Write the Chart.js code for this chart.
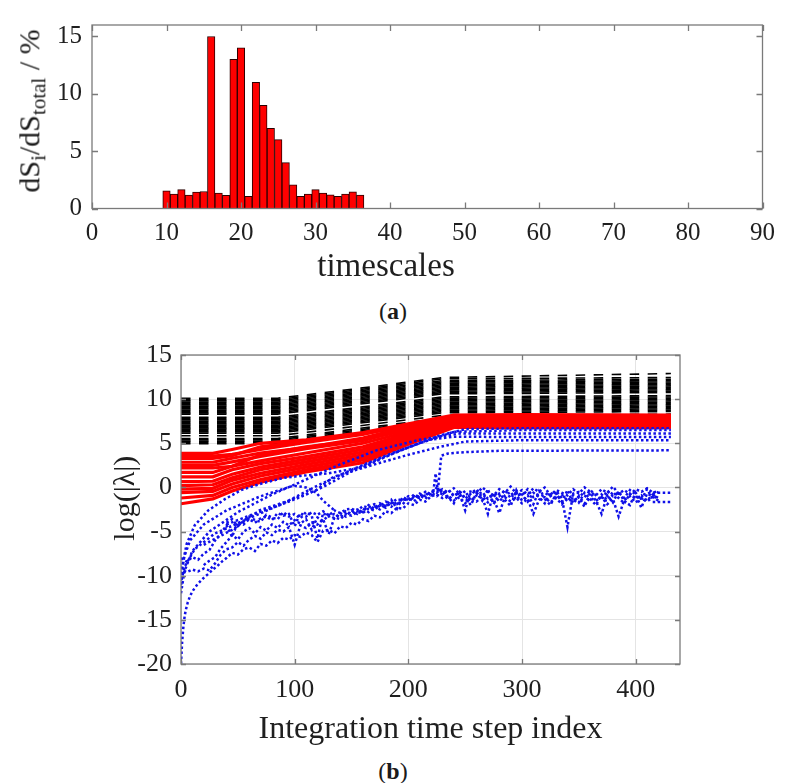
<!DOCTYPE html>
<html><head><meta charset="utf-8">
<script src="https://cdn.jsdelivr.net/npm/chart.js@4.4.1/dist/chart.umd.min.js"></script>
<style>
html,body{margin:0;padding:0;background:#fff;}
body{width:785px;height:783px;position:relative;overflow:hidden;font-family:'Liberation Serif',serif;}
canvas{position:absolute;left:0;}
#c1{top:0;}
#c2{top:330px;}
.lbl{position:absolute;color:#1a1a1a;white-space:nowrap;line-height:1;transform:translate(-50%,-50%);}
#ylab{left:32px;top:111px;font-size:30px;transform:translate(-50%,-50%) rotate(-90deg);}
#ylab sub{font-size:21px;vertical-align:-0.3em;}
#la{left:393px;top:311px;font-size:24px;}
#lb{left:393px;top:771px;font-size:24px;}
</style></head><body>
<canvas id="c1" width="785" height="290"></canvas>
<canvas id="c2" width="785" height="420"></canvas>
<div id="ylab" class="lbl">dS<sub>i</sub>/dS<sub>total</sub> / %</div>
<div id="la" class="lbl">(<b>a</b>)</div>
<div id="lb" class="lbl">(<b>b</b>)</div>
<script>
// ---------- (a) bar chart data ----------
const timescaleBins = [10,11,12,13,14,15,16,17,18,19,20,21,22,23,24,25,26,27,28,29,30,31,32,33,34,35,36];
const entropyShare  = [1.54,1.26,1.65,1.18,1.43,1.48,15.0,1.35,1.15,13.0,14.0,1.07,11.0,9.0,7.0,6.0,4.0,2.06,1.07,1.26,1.65,1.35,1.2,1.07,1.26,1.46,1.18];
const xTicksA = [0,10,20,30,40,50,60,70,80,90];
const yTicksA = [0,5,10,15];

// ---------- (b) eigenvalue trajectories ----------
const xTicksB = [0,100,200,300,400];
const yTicksB = [-20,-15,-10,-5,0,5,10,15];

// black dashed (slow) eigenvalues, sampled at blackX
const blackX = [0, 85, 130, 180, 230, 431];
const blackLines = [
  [10.1,10.1,10.8,11.6,12.45,12.9],
  [9.95,9.95,10.65,11.45,12.3,12.45],
  [9.8,9.8,10.5,11.3,12.1,12.25],
  [9.65,9.65,10.35,11.15,11.95,12.1],
  [9.5,9.5,10.2,11.0,11.8,11.95],
  [9.35,9.35,10.05,10.85,11.65,11.8],
  [9.2,9.2,9.9,10.7,11.5,11.65],
  [9.05,9.05,9.75,10.55,11.35,11.5],
  [8.9,8.9,9.6,10.4,11.2,11.35],
  [8.75,8.75,9.45,10.25,11.05,11.2],
  [8.6,8.6,9.3,10.1,10.9,11.05],
  [8.45,8.45,9.15,9.95,10.75,10.9],
  [8.3,8.3,9.0,9.8,10.6,10.75],
  [7.95,7.95,8.65,9.45,10.25,10.4],
  [7.8,7.8,8.5,9.3,10.1,10.25],
  [7.65,7.65,8.35,9.15,9.95,10.1],
  [7.5,7.5,8.2,9.0,9.8,9.95],
  [7.35,7.35,8.05,8.85,9.65,9.8],
  [7.2,7.2,7.9,8.7,9.5,9.65],
  [7.05,7.05,7.75,8.55,9.35,9.5],
  [6.9,6.9,7.6,8.4,9.2,9.35],
  [6.75,6.75,7.45,8.25,9.05,9.2],
  [6.6,6.6,7.3,8.1,8.9,9.05],
  [6.45,6.45,7.15,7.95,8.75,8.9],
  [6.3,6.3,7.0,7.8,8.6,8.75],
  [6.15,6.15,6.85,7.65,8.45,8.6],
  [5.85,5.85,6.55,7.35,8.15,8.3],
  [5.55,5.55,6.25,7.05,7.85,8.0],
  [5.4,5.4,6.1,6.9,7.7,7.85],
  [5.25,5.25,5.95,6.75,7.55,7.7],
  [5.1,5.1,5.8,6.6,7.4,7.55],
  [4.95,4.95,5.65,6.45,7.25,7.4]
];

// red solid eigenvalues, sampled at redX
const redX = [0, 28, 45, 70, 110, 160, 200, 240, 300, 431];
const redLines = [
  [3.85,3.85,4.3,5.0,5.4,6.2,7.2,8.2,8.25,8.2],
  [3.55,3.55,3.75,4.3,5.1,6.0,7.1,8.1,8.15,8.1],
  [3.3,3.3,3.6,4.6,5.25,6.1,7.0,8.0,8.0,7.95],
  [2.85,2.85,3.3,3.9,4.5,5.6,6.9,7.9,7.9,7.85],
  [2.5,2.5,2.9,3.5,4.4,5.3,6.7,7.75,7.75,7.7],
  [2.2,2.2,2.4,3.7,4.6,5.4,6.5,7.6,7.6,7.6],
  [1.7,1.7,2.4,3.0,3.9,5.0,6.3,7.5,7.5,7.5],
  [1.2,1.2,2.0,2.7,3.5,4.6,6.1,7.4,7.4,7.35],
  [0.65,0.7,1.5,2.3,3.2,4.3,5.9,7.3,7.3,7.25],
  [0.2,0.3,1.1,2.0,2.9,4.0,5.7,7.2,7.2,7.15],
  [-0.2,-0.1,0.8,1.6,2.6,3.7,5.5,7.1,7.1,7.05],
  [-0.6,-0.45,0.4,1.3,2.3,3.4,5.3,7.0,7.0,6.95],
  [-1.2,-0.9,0.0,0.9,2.0,3.1,5.1,6.9,6.9,6.85],
  [-1.85,-1.3,-0.4,0.6,1.76,2.8,4.9,6.8,6.8,6.8]
];

// blue dotted smooth eigenvalues
const blueAX = [0,2,5,12,24,39,53,71,91,105,130,160,193,228,250,300,431];
const blueAY = [-11,-8.3,-6.4,-4.3,-2.6,-1.3,-0.3,0.45,1.1,1.3,1.6,2.3,4.2,5.9,6.6,6.7,6.7];
const blueBX = [0,3,8,20,40,70,99,110,119,125,135];
const blueBY = [-9.8,-7.8,-6.0,-4.2,-2.6,-1.0,0.2,0.0,-0.6,-1.5,-2.6];
const blueCX = [40,61,85,105,125,157,187,216,240,300,431];
const blueCY = [-4.2,-3.15,-2.1,-1.1,0.05,2.3,3.85,5.35,5.75,5.7,5.7];
const blueDX = [20,45,69,95,119,134,170,200,228,250,300,431];
const blueDY = [-6.5,-4.8,-2.6,-1.5,-0.3,1.2,2.6,3.7,4.6,5.2,5.35,5.35];
const blueEX = [0,3,10,25,50,80,110,140,172,210,245,300,431];
const blueEY = [-12,-9.5,-7.2,-5,-2.8,-0.8,0.9,2.6,4.2,5.4,6.1,6.1,6.1];
const blueGX = [0,4,12,30,60,90,120,150,180,210,240,300,431];
const blueGY = [-10.5,-8.8,-7,-5.2,-3.5,-1.8,0.2,2.0,3.6,5.0,6.3,6.5,6.5];
const jumpX = [226,229,235,250,280,431];
const jumpY = [-0.3,3.6,3.85,4.0,4.15,4.2];

// blue dotted noisy eigenvalues
const stepX = [0,5,10,15,20,25,30,35,40,45,50,55,60,65,70,75,80,85,90,95,100,105,110,115,120,125,130,135,140,145,150,155,160,165,170,175,180,185,190,195,200,205,210,215,220,225,230,235,240,245,250,255,260,265,270,275,280,285,290,295,300,305,310,315,320,325,330,335,340,345,350,355,360,365,370,375,380,385,390,395,400,405,410,415,420];
const noisy1Y = [-8.0,-8.4,-7.9,-8.2,-7.5,-7.1,-6.0,-5.2,-4.3,-5.6,
 -3.9,-4.2,-3.6,-4.0,-3.5,-3.3,-3.7,-2.9,-3.2,-3.0,
 -4.4,-2.9,-3.3,-2.8,-3.1,-2.7,-3.2,-2.6,-2.9,-2.5,
 -2.4,-2.7,-2.1,-2.3,-1.9,-2.2,-1.6,-1.8,-1.3,-1.5,
 -1.0,-1.3,-0.7,-1.0,-0.4,-0.6,-0.2,-0.6,-0.1,-0.7,
 -2.6,-0.3,-0.8,0.0,-0.5,-0.9,-0.2,-0.6,0.1,-0.7,
 -0.3,-0.8,-0.1,-0.5,0.0,-0.9,-0.3,-0.6,-0.9,-0.2,
 -0.7,0.0,-0.5,-0.9,-0.2,-0.6,0.1,-0.7,-0.3,-0.8,
 -0.2,-0.5,-0.1,-0.6,-0.4];
const noisy4Y = [null,null,null,null,null,null,null,null,
 -4.0,-3.6,-4.4,-3.8,-3.3,-3.7,-3.9,-3.1,-3.4,-3.6,
 -2.8,-3.3,-3.0,-3.5,-2.8,-3.2,-5.8,-2.9,-3.3,-3.0,
 -3.4,-2.7,-3.0,-2.5,-2.8,-2.0,-2.4,-1.8,-2.1,-1.4,
 -2.4,-1.1,-1.4,-0.8,-1.1,-0.5,-0.8,0.0,-0.5,-1.4,
 -0.6,-1.0,-0.4,-1.5,-0.9,-0.5,-1.3,-0.8,-1.6,-0.9,
 -0.5,-1.4,-0.8,-1.6,-0.6,-1.1,-1.8,-0.5,-1.3,-0.8,
 -1.5,-0.9,-1.7,-0.6,-1.3,-2.0,-0.8,-1.4,-0.5,-1.2,
 -1.8,-0.7,-1.3,-0.9,-1.5,-0.8,-1.2];
const noisy5Y = [null,null,null,null,
 -8.8,-8.3,-7.9,-6.9,-6.2,-5.4,-5.9,-5.0,-4.6,-5.2,
 -4.5,-4.9,-4.2,-4.6,-3.9,-4.3,-3.7,-4.1,-3.6,-4.8,
 -3.4,-3.8,-3.1,-3.5,-2.9,-3.3,-2.6,-3.0,-2.4,-2.8,
 -2.1,-2.5,-1.9,-2.2,-1.6,-1.9,-1.2,-1.6,-0.9,-1.3,
 -0.6,-1.0,-0.3,-1.1,-1.8,-0.4,-1.2,-2.0,-0.6,-1.5,
 -0.2,-1.9,-0.7,-1.4,-2.1,-0.3,-1.5,-0.9,-1.9,-0.4,
 -1.3,-2.0,-0.7,-1.6,-0.3,-1.8,-1.1,-2.2,-0.6,-1.5,
 -3.0,-0.9,-1.7,-0.4,-1.6,-2.0,-0.6,-1.4,-0.2,-1.3,
 -0.9];
const noisy2X = [0,1,2,3,4,6,8,10,12,15,18,21,24,28,32,36,40,45,50,55,60,65,70,75,80,85,90,95,100,105,110,115,120,125,130,135,140,145,150,155,160,165,170,175,180,185,190,195,200,205,210,215,220,225,230,235,240,245,250,255,260,265,270,275,280,285,290,295,300,305,310,315,320,325,330,335,340,345,350,355,360,365,370,375,380,385,390,395,400,405,410,415,420];
const noisy2Y = [-20,-17.5,-15.9,-14.8,-14.0,-13.0,-12.3,-11.8,-11.4,-10.9,-10.5,-10.1,-9.8,-9.3,-8.9,-8.4,-8.0,
 -7.4,-7.6,-7.0,-6.8,-7.2,-6.4,-6.6,-6.0,-6.3,-5.7,-5.9,
 -5.4,-5.6,-5.1,-5.4,-6.2,-4.9,-4.8,-5.2,-4.4,-4.6,
 -4.0,-4.2,-3.6,-3.8,-3.2,-3.4,-2.7,-2.9,-2.3,-2.4,
 -1.8,-2.0,-1.4,-1.6,-1.0,-0.8,-1.2,-0.9,-1.5,-1.1,
 -1.8,-1.2,-1.6,-1.0,-1.7,-1.3,-2.9,-1.1,-1.6,-1.2,
 -1.8,-1.3,-3.0,-1.4,-1.1,-1.7,-1.2,-1.9,-1.3,-1.6,
 -1.0,-1.8,-1.2,-1.5,-1.1,-1.9,-1.3,-3.3,-1.4,-1.0,
 -1.7,-1.2,-1.6,-1.1,-1.5];
const noisy3X = [0,2,5,10,15,20,25,30,35,40,45,50,55,60,65,70,75,80,85,90,95,100,105,110,115,120,125,130,135,140,145,150,155,160,165,170,175,180,185,190,195,200,205,210,215,220,222,224,226,230,235,240,245,250,255,260,265,270,275,280,285,290,295,300,305,310,315,320,325,330,335,340,345,350,355,360,365,370,375,380,385,390,395,400,405,410,415,420];
const noisy3Y = [-11.0,-9.4,
 -9.6,-9.3,-9.5,-9.2,-9.4,-8.6,-7.6,-7.0,-6.8,-6.2,
 -6.6,-5.9,-5.5,-5.8,-5.1,-5.4,-4.8,-5.0,-4.5,-6.5,
 -4.3,-4.6,-4.0,-4.2,-3.6,-5.3,-3.4,-3.6,-3.0,-3.2,
 -2.8,-2.9,-2.4,-2.6,-2.0,-2.3,-1.7,-1.9,-1.3,-1.5,
 -1.0,-1.2,-0.7,-0.9,
 -0.5,1.6,-0.5,
 -0.8,-0.3,-1.0,-0.5,-1.3,-0.7,-0.2,-1.1,-3.0,-0.6,
 -1.0,-0.3,-1.2,-0.5,-0.9,-0.2,-1.1,-0.8,-0.6,-1.0,
 -0.4,-1.2,-4.5,-0.7,-0.5,-1.1,-0.3,-0.9,-1.4,-0.4,
 -1.0,-0.6,-1.2,-0.3,-0.8,-2.3,-0.7,-1.0,-0.5];
const tailX = [415,431];
const tailHiY = [-0.6,-0.6];
const tailLoY = [-1.65,-1.65];

// ---------- helpers ----------
const pts = (xs, ys) => xs.map((x, i) => ({x: x, y: ys[i]}));
const FONT = "'Liberation Serif', 'Times New Roman', serif";
const TXT = '#1f1f1f';

const frame = {
  id: 'frame',
  afterDatasetsDraw(chart, args, o) {
    const {ctx, chartArea: a, scales} = chart;
    ctx.save();
    ctx.strokeStyle = o.color; ctx.lineWidth = o.width;
    ctx.beginPath();
    scales.x.ticks.forEach(t => {
      const p = Math.round(scales.x.getPixelForValue(t.value)) + 0.5;
      ctx.moveTo(p, a.bottom); ctx.lineTo(p, a.bottom - o.len);
      ctx.moveTo(p, a.top); ctx.lineTo(p, a.top + o.len);
    });
    scales.y.ticks.forEach(t => {
      const p = Math.round(scales.y.getPixelForValue(t.value)) + 0.5;
      ctx.moveTo(a.left, p); ctx.lineTo(a.left + o.len, p);
      ctx.moveTo(a.right, p); ctx.lineTo(a.right - o.len, p);
    });
    ctx.stroke();
    ctx.strokeRect(a.left, a.top, a.right - a.left, a.bottom - a.top);
    ctx.restore();
  }
};

// ---------- chart (a) ----------
new Chart(document.getElementById('c1'), {
  type: 'bar',
  data: { datasets: [{
    data: pts(timescaleBins, entropyShare),
    backgroundColor: '#ff0000', borderColor: '#2a0000', borderWidth: 1,
    barPercentage: 1, categoryPercentage: 1
  }]},
  options: {
    responsive: false, animation: false, devicePixelRatio: 1,
    layout: { padding: { left: 0, top: 15, right: 14, bottom: 0 } },
    plugins: { legend: { display: false }, tooltip: { enabled: false },
      frame: { color: '#7a7a7a', width: 1.3, len: 6 } },
    scales: {
      x: { type: 'linear', min: 0, max: 90, offset: false,
        grid: { display: false, drawTicks: false }, border: { display: false },
        afterBuildTicks: s => { s.ticks = xTicksA.map(v => ({value: v})); },
        ticks: { font: { family: FONT, size: 25 }, color: TXT, padding: 10, maxRotation: 0, autoSkip: false },
        title: { display: true, text: 'timescales\u2002\u2002\u2002\u2002\u2002', font: { family: FONT, size: 33 }, color: TXT, padding: { top: 0, bottom: 3 } },
        afterFit: s => { s.height = 81.5; } },
      y: { min: 0, max: 16,
        grid: { display: false, drawTicks: false }, border: { display: false },
        afterBuildTicks: s => { s.ticks = yTicksA.map(v => ({value: v})); },
        ticks: { font: { family: FONT, size: 25 }, color: TXT, padding: 10 },
        afterFit: s => { s.width = 92; } }
    }
  },
  plugins: [frame]
});

// ---------- chart (b) ----------
const blueStyle = { borderColor: '#1010e8', borderWidth: 2.5, borderDash: [2.5, 2.5], pointRadius: 0, tension: 0, fill: false, spanGaps: false };
const redStyle = { borderColor: '#ff0000', borderWidth: 3.2, pointRadius: 0, tension: 0, fill: false };
const blackStyle = { borderColor: '#000000', borderWidth: 1.6, borderDash: [9.5, 8.5], pointRadius: 0, tension: 0, fill: false };

const datasets = [];
[[blueAX, blueAY], [blueBX, blueBY], [blueCX, blueCY], [blueDX, blueDY], [blueEX, blueEY], [blueGX, blueGY], [jumpX, jumpY],
 [stepX, noisy1Y], [stepX, noisy4Y], [stepX, noisy5Y], [noisy2X, noisy2Y], [noisy3X, noisy3Y], [tailX, tailHiY], [tailX, tailLoY]]
  .forEach(([xs, ys]) => datasets.push(Object.assign({ data: pts(xs, ys) }, blueStyle)));
redLines.forEach(ys => datasets.push(Object.assign({ data: pts(redX, ys) }, redStyle)));
blackLines.forEach(ys => datasets.push(Object.assign({ data: pts(blackX, ys) }, blackStyle)));

new Chart(document.getElementById('c2'), {
  type: 'line',
  data: { datasets: datasets },
  options: {
    responsive: false, animation: false, devicePixelRatio: 1,
    layout: { padding: { left: 0, top: 25, right: 105, bottom: 0 } },
    plugins: { legend: { display: false }, tooltip: { enabled: false },
      frame: { color: '#7a7a7a', width: 1.3, len: 5 } },
    scales: {
      x: { type: 'linear', min: 0, max: 439,
        grid: { color: '#e4e4e4', lineWidth: 1, drawTicks: false }, border: { display: false },
        afterBuildTicks: s => { s.ticks = xTicksB.map(v => ({value: v})); },
        ticks: { font: { family: FONT, size: 26 }, color: TXT, padding: 11, maxRotation: 0, autoSkip: false },
        title: { display: true, text: 'Integration time step index', font: { family: FONT, size: 32 }, color: TXT, padding: { top: 0, bottom: 1 } },
        afterFit: s => { s.height = 86; } },
      y: { type: 'linear', min: -20, max: 15,
        grid: { color: '#e4e4e4', lineWidth: 1, drawTicks: false }, border: { display: false },
        afterBuildTicks: s => { s.ticks = yTicksB.map(v => ({value: v})); },
        ticks: { font: { family: FONT, size: 26 }, color: TXT, padding: 9 },
        title: { display: true, text: '\u2002 log(|\u03bb|)', font: { family: FONT, size: 30 }, color: TXT, padding: { top: 108, bottom: 0 } },
        afterFit: s => { s.width = 181; } }
    }
  },
  plugins: [frame]
});
</script>
</body></html>
